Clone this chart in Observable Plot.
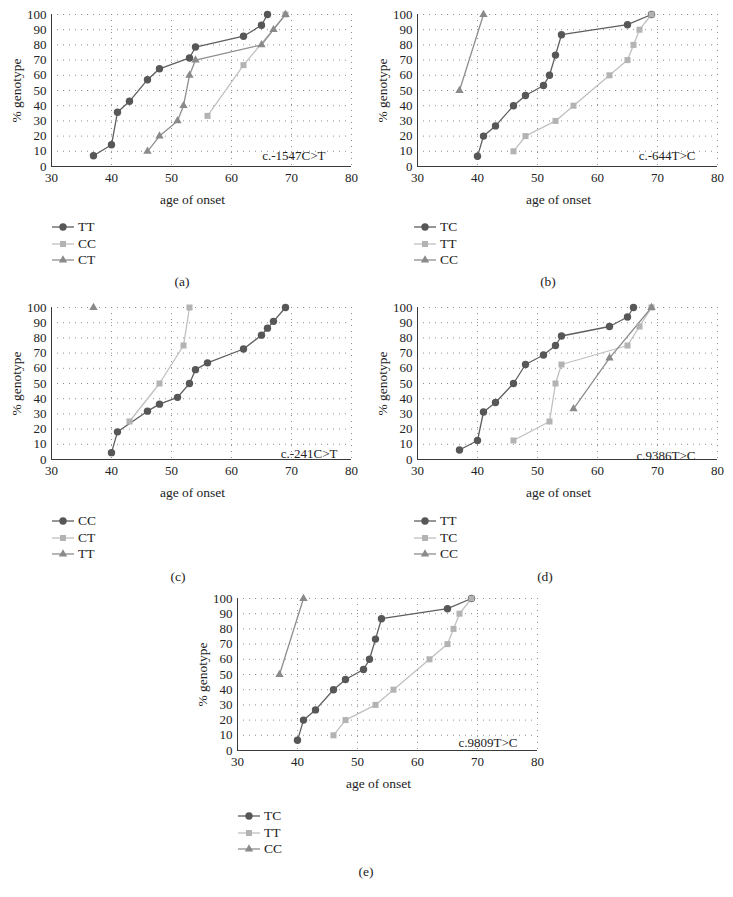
<!DOCTYPE html>
<html>
<head>
<meta charset="utf-8">
<style>
  body { margin: 0; background: #fff; }
  #root { position: relative; width: 733px; height: 897px; font-family: "Liberation Serif", "Times New Roman", serif; color: #222; overflow: hidden; }
  #root svg, #root svg text { font-family: "Liberation Serif", "Times New Roman", serif !important; }
  .panel { position: absolute; }
  .legrow { position: absolute; height: 16px; line-height: 16px; font-size: 13.5px; display: flex; align-items: center; white-space: nowrap; }
  .legrow svg { margin-right: 4px; }
  .cap { position: absolute; font-size: 13.5px; transform: translate(-50%, -50%); white-space: nowrap; }
</style>
<script src="https://cdn.jsdelivr.net/npm/d3@7"></script>
<script src="https://cdn.jsdelivr.net/npm/@observablehq/plot@0.6"></script>
</head>
<body>
<div id="root"></div>
<script>
// ---------- tick labels ----------
const xTicks = [30, 40, 50, 60, 70, 80];
const yTicks = [0, 10, 20, 30, 40, 50, 60, 70, 80, 90, 100];
const xLabel = "age of onset";
const yLabel = "% genotype";

// ---------- panel (a) c.-1547C>T ----------
const aNames = ["TT", "CC", "CT"];
const aTTage = [37, 40, 41, 43, 46, 48, 53, 54, 62, 65, 66];
const aTTpct = [7.1, 14.3, 35.7, 42.9, 57.1, 64.3, 71.4, 78.6, 85.7, 92.9, 100];
const aCCage = [56, 62, 69];
const aCCpct = [33.3, 66.7, 100];
const aCTage = [46, 48, 51, 52, 53, 54, 65, 67, 69];
const aCTpct = [10, 20, 30, 40, 60, 70, 80, 90, 100];

// ---------- panel (b) c.-644T>C ----------
const bNames = ["TC", "TT", "CC"];
const bTCage = [40, 41, 43, 46, 48, 51, 52, 53, 54, 65, 69];
const bTCpct = [6.7, 20, 26.7, 40, 46.7, 53.3, 60, 73.3, 86.7, 93.3, 100];
const bTTage = [46, 48, 53, 56, 62, 65, 66, 67, 69];
const bTTpct = [10, 20, 30, 40, 60, 70, 80, 90, 100];
const bCCage = [37, 41];
const bCCpct = [50, 100];

// ---------- panel (c) c.-241C>T ----------
const cNames = ["CC", "CT", "TT"];
const cCCage = [40, 41, 46, 48, 51, 53, 54, 56, 62, 65, 66, 67, 69];
const cCCpct = [4.5, 18.2, 31.8, 36.4, 40.9, 50, 59.1, 63.6, 72.7, 81.8, 86.4, 90.9, 100];
const cCTage = [43, 48, 52, 53];
const cCTpct = [25, 50, 75, 100];
const cTTage = [37];
const cTTpct = [100];

// ---------- panel (d) c.9386T>C ----------
const dNames = ["TT", "TC", "CC"];
const dTTage = [37, 40, 41, 43, 46, 48, 51, 53, 54, 62, 65, 66];
const dTTpct = [6.25, 12.5, 31.25, 37.5, 50, 62.5, 68.75, 75, 81.25, 87.5, 93.75, 100];
const dTCage = [46, 52, 53, 54, 65, 67, 69];
const dTCpct = [12.5, 25, 50, 62.5, 75, 87.5, 100];
const dCCage = [56, 62, 69];
const dCCpct = [33.3, 66.7, 100];

// ---------- panel (e) c.9809T>C ----------
const eNames = ["TC", "TT", "CC"];
const eTCage = [40, 41, 43, 46, 48, 51, 52, 53, 54, 65, 69];
const eTCpct = [6.7, 20, 26.7, 40, 46.7, 53.3, 60, 73.3, 86.7, 93.3, 100];
const eTTage = [46, 48, 53, 56, 62, 65, 66, 67, 69];
const eTTpct = [10, 20, 30, 40, 60, 70, 80, 90, 100];
const eCCage = [37, 41];
const eCCpct = [50, 100];

// ---------- styles (series order: dark circle, light square, mid triangle) ----------
const seriesStyle = [
  { line: "#5e5e5e", fill: "#575757", symbol: "circle", r: 3.7 },
  { line: "#c0c0c0", fill: "#b3b3b3", symbol: "square", r: 3.4 },
  { line: "#8e8e8e", fill: "#8a8a8a", symbol: "triangle", r: 3.1 }
];

const panels = [
  { names: aNames, ages: [aTTage, aCCage, aCTage], pcts: [aTTpct, aCCpct, aCTpct], label: "c.-1547C>T", ldx: -26, ldy: -11,
    left: 0, top: 0, caption: "(a)", capX: 182, capY: 282, legLeft: 52, legTop: 227 },
  { names: bNames, ages: [bTCage, bTTage, bCCage], pcts: [bTCpct, bTTpct, bCCpct], label: "c.-644T>C", ldx: -22, ldy: -11,
    left: 366, top: 0, caption: "(b)", capX: 548, capY: 282, legLeft: 414, legTop: 227 },
  { names: cNames, ages: [cCCage, cCTage, cTTage], pcts: [cCCpct, cCTpct, cTTpct], label: "c.-241C>T", ldx: -14, ldy: -6,
    left: 0, top: 293, caption: "(c)", capX: 178, capY: 577, legLeft: 52, legTop: 521 },
  { names: dNames, ages: [dTTage, dTCage, dCCage], pcts: [dTTpct, dTCpct, dCCpct], label: "c.9386T>C", ldx: -22, ldy: -4,
    left: 366, top: 293, caption: "(d)", capX: 545, capY: 577, legLeft: 414, legTop: 521 },
  { names: eNames, ages: [eTCage, eTTage, eCCage], pcts: [eTCpct, eTTpct, eCCpct], label: "c.9809T>C", ldx: -20, ldy: -8,
    left: 186, top: 584, caption: "(e)", capX: 366, capY: 872, legLeft: 238, legTop: 816 }
];

const root = document.getElementById("root");
const gridStyle = { stroke: "#8f8f8f", strokeOpacity: 1, strokeWidth: 1, strokeDasharray: "1,5" };
const FONT = '"Liberation Serif", "Times New Roman", serif';

panels.forEach(p => {
  const series = p.names.map((name, i) => ({
    name,
    style: seriesStyle[i],
    data: d3.zip(p.ages[i], p.pcts[i]).map(([x, y]) => ({ x, y, name }))
  }));

  const marks = [
    Plot.gridY(yTicks.filter(v => v > 0), gridStyle),
    Plot.gridX(xTicks.filter(v => v > 30), gridStyle),
    Plot.axisX(xTicks, { tickSize: 0, tickPadding: 6, fontSize: 13, label: null }),
    Plot.axisY(yTicks, { tickSize: 0, tickPadding: 5, fontSize: 13, label: null }),
    Plot.ruleY([0], { stroke: "#3a3a3a", strokeWidth: 1 }),
    Plot.ruleX([30], { stroke: "#3a3a3a", strokeWidth: 1 }),
    Plot.text([yLabel], { frameAnchor: "left", rotate: -90, dx: -35, fontSize: 13.5, textAnchor: "middle", lineAnchor: "middle" }),
    Plot.text([xLabel], { frameAnchor: "bottom", dx: -9, dy: 33, fontSize: 13.5, textAnchor: "middle", lineAnchor: "middle" }),
    Plot.text([p.label], { frameAnchor: "bottom-right", dx: p.ldx, dy: p.ldy, fontSize: 13, textAnchor: "end", lineAnchor: "middle" })
  ];
  series.forEach(s => {
    marks.push(Plot.line(s.data, { x: "x", y: "y", stroke: s.style.line, strokeWidth: 1.3 }));
  });
  series.forEach(s => {
    marks.push(Plot.dot(s.data, { x: "x", y: "y", symbol: s.style.symbol, r: s.style.r, fill: s.style.fill }));
  });

  const chart = Plot.plot({
    width: 360,
    height: 210,
    marginLeft: 51,
    marginRight: 9,
    marginTop: 14,
    marginBottom: 44,
    x: { domain: [30, 80] },
    y: { domain: [0, 100] },
    style: { fontFamily: FONT, fontSize: "13px", color: "#222", background: "transparent", overflow: "visible" },
    marks
  });

  const div = document.createElement("div");
  div.className = "panel";
  div.style.left = p.left + "px";
  div.style.top = p.top + "px";
  div.appendChild(chart);
  root.appendChild(div);

  // legend
  series.forEach((s, i) => {
    const row = document.createElement("div");
    row.className = "legrow";
    row.style.left = p.legLeft + "px";
    row.style.top = (p.legTop - 8 + i * 16.5) + "px";
    const svg = d3.create("svg").attr("width", 22).attr("height", 12);
    svg.append("line").attr("x1", 0).attr("x2", 22).attr("y1", 6).attr("y2", 6)
      .attr("stroke", s.style.line).attr("stroke-width", 1.3);
    const sym = { circle: d3.symbolCircle, square: d3.symbolSquare, triangle: d3.symbolTriangle }[s.style.symbol];
    svg.append("path").attr("transform", "translate(11,6)")
      .attr("d", d3.symbol(sym, Math.PI * s.style.r * s.style.r)())
      .attr("fill", s.style.fill);
    row.appendChild(svg.node());
    const t = document.createElement("span");
    t.textContent = s.name;
    row.appendChild(t);
    root.appendChild(row);
  });

  const cap = document.createElement("div");
  cap.className = "cap";
  cap.style.left = p.capX + "px";
  cap.style.top = p.capY + "px";
  cap.textContent = p.caption;
  root.appendChild(cap);
});
</script>
</body>
</html>
